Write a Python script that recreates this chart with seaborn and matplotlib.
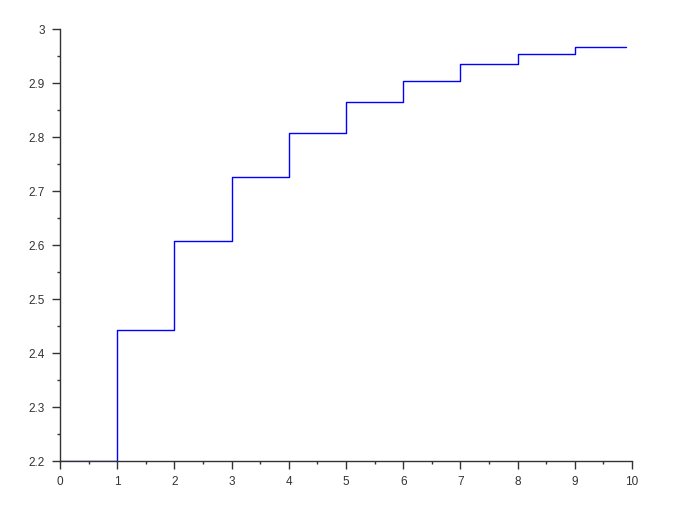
import numpy as np
import pandas as pd
import matplotlib
matplotlib.use("Agg")
import matplotlib.pyplot as plt
import seaborn as sns
from matplotlib.ticker import MultipleLocator

# step values
x_vals = [0, 1, 2, 3, 4, 5, 6, 7, 8, 9, 9.9]
y_vals = [2.2, 2.442, 2.608, 2.726, 2.807, 2.865, 2.904, 2.935, 2.954, 2.967, 2.967]

df = pd.DataFrame({"x": x_vals, "y": y_vals})

sns.set_style("ticks")
plt.rcParams["font.family"] = ["Liberation Sans", "DejaVu Sans"]

fig = plt.figure(figsize=(6.83, 5.08), dpi=100)
ax = fig.add_axes([60 / 683, 47 / 508, 572 / 683, 432 / 508])

sns.lineplot(data=df, x="x", y="y", drawstyle="steps-post", color="#0000ff",
             linewidth=1.0, ax=ax)

ax.set_xlim(0, 10)
ax.set_ylim(2.2, 3)
ax.xaxis.set_major_locator(MultipleLocator(1))
ax.xaxis.set_minor_locator(MultipleLocator(0.5))
ax.yaxis.set_major_locator(MultipleLocator(0.1))
ax.yaxis.set_minor_locator(MultipleLocator(0.05))
ax.set_yticklabels([f"{v:g}" for v in ax.get_yticks()])
ax.set_xlabel("")
ax.set_ylabel("")

for s in ["top", "right"]:
    ax.spines[s].set_visible(False)
for s in ["left", "bottom"]:
    ax.spines[s].set_color("#333333")
    ax.spines[s].set_linewidth(1.0)

ax.tick_params(which="major", length=6, width=1, color="#333333",
               labelsize=8.5, labelcolor="#333333")
ax.tick_params(which="minor", length=2.5, width=1, color="#333333")
ax.tick_params(axis="x", which="major", pad=5)
ax.tick_params(axis="y", which="major", pad=5)

fig.savefig("out.png", dpi=100)
